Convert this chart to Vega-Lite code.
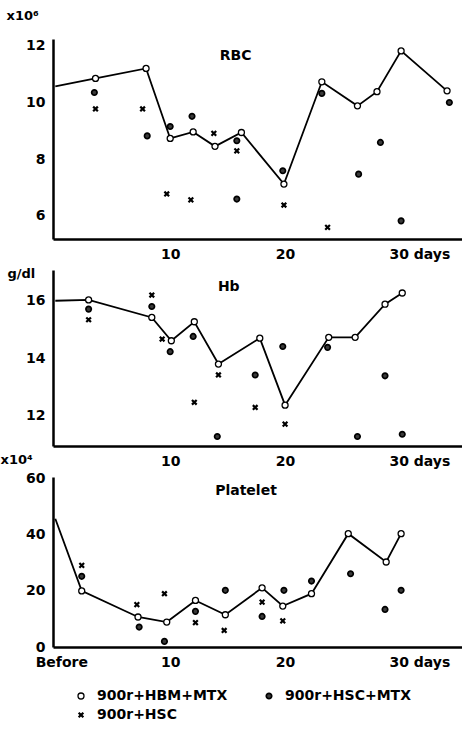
{
  "$schema": "https://vega.github.io/schema/vega-lite/v6.json",
  "background": "white",
  "padding": {"left": 0, "top": 9, "right": 0, "bottom": 0},
  "config": {
    "font": "DejaVu Sans",
    "view": {"stroke": null},
    "axis": {"domainColor": "black", "domainWidth": 2.5, "ticks": false, "grid": false, "labelFont": "DejaVu Sans", "labelFontWeight": "bold", "labelFontSize": 14, "labelColor": "black", "labelPadding": 8, "labelFlush": false, "labelOverlap": false, "titleFont": "DejaVu Sans", "titleFontWeight": "bold", "titleFontSize": 13, "titleColor": "black"},
    "legend": {"labelFont": "DejaVu Sans", "labelFontWeight": "bold", "labelFontSize": 14, "labelColor": "black", "symbolStrokeColor": "black", "symbolFillColor": "white", "columnPadding": 34, "rowPadding": 5, "labelOffset": 9}
  },
  "datasets": {
    "rbc": [
      {"series": "900r+HBM+MTX", "day": 0, "value": 10.57},
      {"series": "900r+HBM+MTX", "day": 3.5, "value": 10.85},
      {"series": "900r+HBM+MTX", "day": 7.9, "value": 11.2},
      {"series": "900r+HBM+MTX", "day": 10.0, "value": 8.73},
      {"series": "900r+HBM+MTX", "day": 12.0, "value": 8.96},
      {"series": "900r+HBM+MTX", "day": 13.9, "value": 8.45},
      {"series": "900r+HBM+MTX", "day": 16.2, "value": 8.94},
      {"series": "900r+HBM+MTX", "day": 19.9, "value": 7.12},
      {"series": "900r+HBM+MTX", "day": 23.2, "value": 10.73},
      {"series": "900r+HBM+MTX", "day": 26.3, "value": 9.88},
      {"series": "900r+HBM+MTX", "day": 28.0, "value": 10.38},
      {"series": "900r+HBM+MTX", "day": 30.1, "value": 11.82},
      {"series": "900r+HBM+MTX", "day": 34.1, "value": 10.41},
      {"series": "900r+HSC+MTX", "day": 3.4, "value": 10.35},
      {"series": "900r+HSC+MTX", "day": 8.0, "value": 8.82},
      {"series": "900r+HSC+MTX", "day": 10.0, "value": 9.15},
      {"series": "900r+HSC+MTX", "day": 11.9, "value": 9.51},
      {"series": "900r+HSC+MTX", "day": 15.8, "value": 8.65},
      {"series": "900r+HSC+MTX", "day": 15.8, "value": 6.59},
      {"series": "900r+HSC+MTX", "day": 19.8, "value": 7.59},
      {"series": "900r+HSC+MTX", "day": 23.2, "value": 10.32},
      {"series": "900r+HSC+MTX", "day": 26.4, "value": 7.47},
      {"series": "900r+HSC+MTX", "day": 28.3, "value": 8.59},
      {"series": "900r+HSC+MTX", "day": 30.1, "value": 5.82},
      {"series": "900r+HSC+MTX", "day": 34.3, "value": 10.0},
      {"series": "900r+HSC", "day": 3.5, "value": 9.77},
      {"series": "900r+HSC", "day": 7.6, "value": 9.77},
      {"series": "900r+HSC", "day": 9.7, "value": 6.77},
      {"series": "900r+HSC", "day": 11.8, "value": 6.56},
      {"series": "900r+HSC", "day": 13.8, "value": 8.91},
      {"series": "900r+HSC", "day": 15.8, "value": 8.29},
      {"series": "900r+HSC", "day": 19.9, "value": 6.38},
      {"series": "900r+HSC", "day": 23.7, "value": 5.59}
    ],
    "hb": [
      {"series": "900r+HBM+MTX", "day": 0, "value": 16.0},
      {"series": "900r+HBM+MTX", "day": 2.9, "value": 16.03},
      {"series": "900r+HBM+MTX", "day": 8.4, "value": 15.42},
      {"series": "900r+HBM+MTX", "day": 10.1, "value": 14.61},
      {"series": "900r+HBM+MTX", "day": 12.1, "value": 15.27},
      {"series": "900r+HBM+MTX", "day": 14.2, "value": 13.8},
      {"series": "900r+HBM+MTX", "day": 17.8, "value": 14.7},
      {"series": "900r+HBM+MTX", "day": 20.0, "value": 12.37},
      {"series": "900r+HBM+MTX", "day": 23.8, "value": 14.73},
      {"series": "900r+HBM+MTX", "day": 26.1, "value": 14.73},
      {"series": "900r+HBM+MTX", "day": 28.7, "value": 15.88},
      {"series": "900r+HBM+MTX", "day": 30.2, "value": 16.27},
      {"series": "900r+HSC+MTX", "day": 2.9, "value": 15.71},
      {"series": "900r+HSC+MTX", "day": 8.4, "value": 15.8},
      {"series": "900r+HSC+MTX", "day": 10.0, "value": 14.23},
      {"series": "900r+HSC+MTX", "day": 12.0, "value": 14.76},
      {"series": "900r+HSC+MTX", "day": 14.1, "value": 11.28},
      {"series": "900r+HSC+MTX", "day": 17.4, "value": 13.42},
      {"series": "900r+HSC+MTX", "day": 19.8, "value": 14.41},
      {"series": "900r+HSC+MTX", "day": 23.7, "value": 14.38},
      {"series": "900r+HSC+MTX", "day": 26.3, "value": 11.28},
      {"series": "900r+HSC+MTX", "day": 28.7, "value": 13.39},
      {"series": "900r+HSC+MTX", "day": 30.2, "value": 11.36},
      {"series": "900r+HSC", "day": 2.9, "value": 15.34},
      {"series": "900r+HSC", "day": 8.4, "value": 16.2},
      {"series": "900r+HSC", "day": 9.3, "value": 14.67},
      {"series": "900r+HSC", "day": 12.1, "value": 12.47},
      {"series": "900r+HSC", "day": 14.2, "value": 13.42},
      {"series": "900r+HSC", "day": 17.4, "value": 12.29},
      {"series": "900r+HSC", "day": 20.0, "value": 11.71}
    ],
    "plt": [
      {"series": "900r+HBM+MTX", "day": 0, "value": 45.7},
      {"series": "900r+HBM+MTX", "day": 2.3, "value": 20.0},
      {"series": "900r+HBM+MTX", "day": 7.2, "value": 10.7},
      {"series": "900r+HBM+MTX", "day": 9.7, "value": 8.9},
      {"series": "900r+HBM+MTX", "day": 12.2, "value": 16.6},
      {"series": "900r+HBM+MTX", "day": 14.8, "value": 11.5},
      {"series": "900r+HBM+MTX", "day": 18.0, "value": 21.1},
      {"series": "900r+HBM+MTX", "day": 19.8, "value": 14.6},
      {"series": "900r+HBM+MTX", "day": 22.3, "value": 19.0},
      {"series": "900r+HBM+MTX", "day": 25.5, "value": 40.4},
      {"series": "900r+HBM+MTX", "day": 28.8, "value": 30.3},
      {"series": "900r+HBM+MTX", "day": 30.1, "value": 40.4},
      {"series": "900r+HSC+MTX", "day": 2.3, "value": 25.2},
      {"series": "900r+HSC+MTX", "day": 7.3, "value": 7.1},
      {"series": "900r+HSC+MTX", "day": 9.5, "value": 2.0},
      {"series": "900r+HSC+MTX", "day": 12.2, "value": 12.7},
      {"series": "900r+HSC+MTX", "day": 14.8, "value": 20.2},
      {"series": "900r+HSC+MTX", "day": 18.0, "value": 10.9},
      {"series": "900r+HSC+MTX", "day": 19.9, "value": 20.2},
      {"series": "900r+HSC+MTX", "day": 22.3, "value": 23.5},
      {"series": "900r+HSC+MTX", "day": 25.7, "value": 26.1},
      {"series": "900r+HSC+MTX", "day": 28.7, "value": 13.4},
      {"series": "900r+HSC+MTX", "day": 30.1, "value": 20.2},
      {"series": "900r+HSC", "day": 2.3, "value": 29.1},
      {"series": "900r+HSC", "day": 7.1, "value": 15.1},
      {"series": "900r+HSC", "day": 9.5, "value": 19.0},
      {"series": "900r+HSC", "day": 12.2, "value": 8.7},
      {"series": "900r+HSC", "day": 14.7, "value": 5.9},
      {"series": "900r+HSC", "day": 18.0, "value": 16.0},
      {"series": "900r+HSC", "day": 19.8, "value": 9.3}
    ]
  },
  "spacing": 31,
  "bounds": "flush",
  "resolve": {"scale": {"shape": "shared", "size": "shared", "strokeWidth": "shared", "fill": "shared", "stroke": "shared"}},
  "vconcat": [
    {
      "width": 409, "height": 200,
      "layer": [
        {"data": {"name": "rbc"}, "transform": [{"filter": "datum.series == '900r+HBM+MTX'"}], "mark": {"type": "line", "color": "black", "strokeWidth": 1.8},
          "encoding": {
            "x": {"field": "day", "type": "quantitative", "scale": {"domain": [-0.2, 35.4], "nice": false, "zero": false},
              "axis": {"values": [10, 20, 30], "title": null, "labelExpr": "datum.value == 30 ? '30 days' : datum.label",
                "labelAlign": {"condition": {"test": "datum.value == 30", "value": "left"}, "value": "center"},
                "labelOffset": {"condition": {"test": "datum.value == 30", "value": -11}, "value": 0}}},
            "y": {"field": "value", "type": "quantitative", "scale": {"domain": [5.18, 12.24], "nice": false, "zero": false},
              "axis": {"values": [6, 8, 10, 12], "title": "x10⁶", "titleAngle": 0, "titleAlign": "left", "titleBaseline": "alphabetic", "titleX": -47, "titleY": -20}}
          }},
        {"data": {"name": "rbc"}, "transform": [{"filter": "datum.day > 0"}],
          "mark": {"type": "point", "filled": true, "opacity": 1},
          "encoding": {
            "x": {"field": "day", "type": "quantitative"},
            "y": {"field": "value", "type": "quantitative"},
            "shape": {"field": "series", "type": "nominal", "scale": {"domain": ["900r+HBM+MTX", "900r+HSC+MTX", "900r+HSC"], "range": ["circle", "circle", "M-1,-1L1,1M-1,1L1,-1"]}, "legend": {"title": null, "orient": "none", "legendX": 21, "legendY": 650, "columns": 2, "direction": "horizontal"}},
            "size": {"field": "series", "type": "nominal", "scale": {"domain": ["900r+HBM+MTX", "900r+HSC+MTX", "900r+HSC"], "range": [36, 22, 50]}, "legend": {"title": null, "orient": "none", "legendX": 21, "legendY": 650, "columns": 2, "direction": "horizontal"}},
            "strokeWidth": {"field": "series", "type": "nominal", "scale": {"domain": ["900r+HBM+MTX", "900r+HSC+MTX", "900r+HSC"], "range": [1.3, 2.2, 2]}, "legend": {"title": null, "orient": "none", "legendX": 21, "legendY": 650, "columns": 2, "direction": "horizontal"}},
            "fill": {"field": "series", "type": "nominal", "scale": {"domain": ["900r+HBM+MTX", "900r+HSC+MTX", "900r+HSC"], "range": ["white", "#3a3a3a", "white"]}, "legend": {"title": null, "orient": "none", "legendX": 21, "legendY": 650, "columns": 2, "direction": "horizontal"}},
            "stroke": {"field": "series", "type": "nominal", "scale": {"domain": ["900r+HBM+MTX", "900r+HSC+MTX", "900r+HSC"], "range": ["black", "black", "black"]}, "legend": {"title": null, "orient": "none", "legendX": 21, "legendY": 650, "columns": 2, "direction": "horizontal"}}
          }},
        {"data": {"values": [{"label": "RBC"}]}, "mark": {"type": "text", "font": "DejaVu Sans", "fontWeight": "bold", "fontSize": 14, "color": "black"},
          "encoding": {"x": {"datum": 15.7, "type": "quantitative"}, "y": {"datum": 11.64, "type": "quantitative"}, "text": {"field": "label", "type": "nominal"}}}
      ]
    },
    {
      "width": 409, "height": 176,
      "layer": [
        {"data": {"name": "hb"}, "transform": [{"filter": "datum.series == '900r+HBM+MTX'"}], "mark": {"type": "line", "color": "black", "strokeWidth": 1.8},
          "encoding": {
            "x": {"field": "day", "type": "quantitative", "scale": {"domain": [-0.2, 35.4], "nice": false, "zero": false},
              "axis": {"values": [10, 20, 30], "title": null, "labelExpr": "datum.value == 30 ? '30 days' : datum.label",
                "labelAlign": {"condition": {"test": "datum.value == 30", "value": "left"}, "value": "center"},
                "labelOffset": {"condition": {"test": "datum.value == 30", "value": -11}, "value": 0}}},
            "y": {"field": "value", "type": "quantitative", "scale": {"domain": [10.95, 17.07], "nice": false, "zero": false},
              "axis": {"values": [12, 14, 16], "title": "g/dl", "titleAngle": 0, "titleAlign": "left", "titleBaseline": "alphabetic", "titleX": -46, "titleY": 7}}
          }},
        {"data": {"name": "hb"}, "transform": [{"filter": "datum.day > 0"}],
          "mark": {"type": "point", "filled": true, "opacity": 1},
          "encoding": {
            "x": {"field": "day", "type": "quantitative"},
            "y": {"field": "value", "type": "quantitative"},
            "shape": {"field": "series", "type": "nominal", "scale": {"domain": ["900r+HBM+MTX", "900r+HSC+MTX", "900r+HSC"], "range": ["circle", "circle", "M-1,-1L1,1M-1,1L1,-1"]}, "legend": {"title": null, "orient": "none", "legendX": 21, "legendY": 650, "columns": 2, "direction": "horizontal"}},
            "size": {"field": "series", "type": "nominal", "scale": {"domain": ["900r+HBM+MTX", "900r+HSC+MTX", "900r+HSC"], "range": [36, 22, 50]}, "legend": {"title": null, "orient": "none", "legendX": 21, "legendY": 650, "columns": 2, "direction": "horizontal"}},
            "strokeWidth": {"field": "series", "type": "nominal", "scale": {"domain": ["900r+HBM+MTX", "900r+HSC+MTX", "900r+HSC"], "range": [1.3, 2.2, 2]}, "legend": {"title": null, "orient": "none", "legendX": 21, "legendY": 650, "columns": 2, "direction": "horizontal"}},
            "fill": {"field": "series", "type": "nominal", "scale": {"domain": ["900r+HBM+MTX", "900r+HSC+MTX", "900r+HSC"], "range": ["white", "#3a3a3a", "white"]}, "legend": {"title": null, "orient": "none", "legendX": 21, "legendY": 650, "columns": 2, "direction": "horizontal"}},
            "stroke": {"field": "series", "type": "nominal", "scale": {"domain": ["900r+HBM+MTX", "900r+HSC+MTX", "900r+HSC"], "range": ["black", "black", "black"]}, "legend": {"title": null, "orient": "none", "legendX": 21, "legendY": 650, "columns": 2, "direction": "horizontal"}}
          }},
        {"data": {"values": [{"label": "Hb"}]}, "mark": {"type": "text", "font": "DejaVu Sans", "fontWeight": "bold", "fontSize": 14, "color": "black"},
          "encoding": {"x": {"datum": 15.1, "type": "quantitative"}, "y": {"datum": 16.48, "type": "quantitative"}, "text": {"field": "label", "type": "nominal"}}}
      ]
    },
    {
      "width": 409, "height": 170,
      "layer": [
        {"data": {"name": "plt"}, "transform": [{"filter": "datum.series == '900r+HBM+MTX'"}], "mark": {"type": "line", "color": "black", "strokeWidth": 1.8},
          "encoding": {
            "x": {"field": "day", "type": "quantitative", "scale": {"domain": [-0.2, 35.4], "nice": false, "zero": false},
              "axis": {"values": [0, 10, 20, 30], "title": null, "labelExpr": "datum.value == 30 ? '30 days' : (datum.value == 0 ? 'Before' : datum.label)",
                "labelAlign": {"condition": {"test": "datum.value == 30", "value": "left"}, "value": "center"},
                "labelOffset": {"condition": [{"test": "datum.value == 30", "value": -11}, {"test": "datum.value == 0", "value": 6}], "value": 0}}},
            "y": {"field": "value", "type": "quantitative", "scale": {"domain": [0, 60.6], "nice": false, "zero": false},
              "axis": {"values": [0, 20, 40, 60], "title": "x10⁴", "titleAngle": 0, "titleAlign": "left", "titleBaseline": "alphabetic", "titleX": -53, "titleY": -14}}
          }},
        {"data": {"name": "plt"}, "transform": [{"filter": "datum.day > 0"}],
          "mark": {"type": "point", "filled": true, "opacity": 1},
          "encoding": {
            "x": {"field": "day", "type": "quantitative"},
            "y": {"field": "value", "type": "quantitative"},
            "shape": {"field": "series", "type": "nominal", "scale": {"domain": ["900r+HBM+MTX", "900r+HSC+MTX", "900r+HSC"], "range": ["circle", "circle", "M-1,-1L1,1M-1,1L1,-1"]}, "legend": {"title": null, "orient": "none", "legendX": 21, "legendY": 650, "columns": 2, "direction": "horizontal"}},
            "size": {"field": "series", "type": "nominal", "scale": {"domain": ["900r+HBM+MTX", "900r+HSC+MTX", "900r+HSC"], "range": [36, 22, 50]}, "legend": {"title": null, "orient": "none", "legendX": 21, "legendY": 650, "columns": 2, "direction": "horizontal"}},
            "strokeWidth": {"field": "series", "type": "nominal", "scale": {"domain": ["900r+HBM+MTX", "900r+HSC+MTX", "900r+HSC"], "range": [1.3, 2.2, 2]}, "legend": {"title": null, "orient": "none", "legendX": 21, "legendY": 650, "columns": 2, "direction": "horizontal"}},
            "fill": {"field": "series", "type": "nominal", "scale": {"domain": ["900r+HBM+MTX", "900r+HSC+MTX", "900r+HSC"], "range": ["white", "#3a3a3a", "white"]}, "legend": {"title": null, "orient": "none", "legendX": 21, "legendY": 650, "columns": 2, "direction": "horizontal"}},
            "stroke": {"field": "series", "type": "nominal", "scale": {"domain": ["900r+HBM+MTX", "900r+HSC+MTX", "900r+HSC"], "range": ["black", "black", "black"]}, "legend": {"title": null, "orient": "none", "legendX": 21, "legendY": 650, "columns": 2, "direction": "horizontal"}}
          }},
        {"data": {"values": [{"label": "Platelet"}]}, "mark": {"type": "text", "font": "DejaVu Sans", "fontWeight": "bold", "fontSize": 14, "color": "black"},
          "encoding": {"x": {"datum": 16.6, "type": "quantitative"}, "y": {"datum": 55.7, "type": "quantitative"}, "text": {"field": "label", "type": "nominal"}}}
      ]
    }
  ]
}
